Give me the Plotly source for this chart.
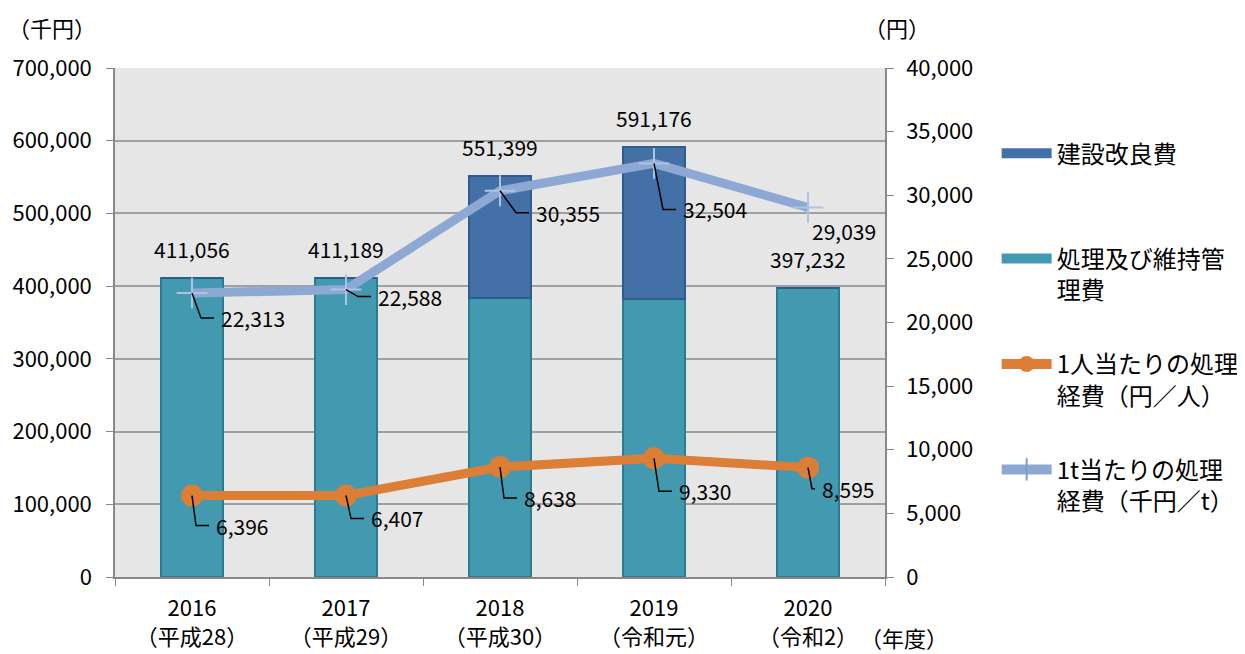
import plotly.graph_objects as go

# ---- data ----
years = ["2016<br>（平成28）", "2017<br>（平成29）", "2018<br>（平成30）", "2019<br>（令和元）", "2020<br>（令和2）"]
maintenance = [411056, 411189, 384000, 382000, 397232]   # 処理及び維持管理費 (千円)
totals = [411056, 411189, 551399, 591176, 397232]        # 合計 (千円)
construction = [t - m for t, m in zip(totals, maintenance)]  # 建設改良費 (千円)
per_person = [6396, 6407, 8638, 9330, 8595]              # 1人当たりの処理経費 (円/人)
per_ton = [22313, 22588, 30355, 32504, 29039]            # 1t当たりの処理経費 (千円/t)

# label offsets (pixels) for line labels: (dx, dy)
person_off = [(22, -30), (23, -23), (22, -31), (23, -33), (12, -21)]
ton_off = [(27, -25), (30, -7), (34, -22), (27, -46), (2, -24)]

FONT = "Noto Sans CJK JP"
TEAL = "#4299B0"
TEAL_EDGE = "#2C7C91"
NAVY = "#4470A8"
NAVY_EDGE = "#2E5C8E"
ORANGE = "#DD7E36"
LBLUE = "#8DA8D2"

fig = go.Figure()

fig.add_trace(go.Bar(x=years, y=maintenance, name="処理及び維持管理費", marker=dict(color=TEAL, line=dict(color=TEAL_EDGE, width=1.5)),
                     width=0.4, showlegend=False, yaxis="y"))
fig.add_trace(go.Bar(x=years, y=construction, name="建設改良費", marker=dict(color=NAVY, line=dict(color=NAVY_EDGE, width=1.5)),
                     width=0.4, showlegend=False, yaxis="y"))
fig.add_trace(go.Scatter(x=years, y=per_person, mode="lines+markers", yaxis="y2",
                         line=dict(color=ORANGE, width=9), marker=dict(size=22, color=ORANGE),
                         showlegend=False))
fig.add_trace(go.Scatter(x=years, y=per_ton, mode="lines+markers", yaxis="y2",
                         line=dict(color=LBLUE, width=9),
                         marker=dict(symbol="cross-thin", size=22, line=dict(color="#AEC2E3", width=2)),
                         showlegend=False))

# legend proxies
fig.add_trace(go.Scatter(x=[None], y=[None], mode="lines", name="建設改良費<br> ", line=dict(color=NAVY, width=10),
                         legendgroup="a", legendrank=1))
fig.add_trace(go.Scatter(x=[None], y=[None], mode="lines", name="処理及び維持管<br>理費", line=dict(color=TEAL, width=10),
                         legendgroup="b", legendrank=2))
fig.add_trace(go.Scatter(x=[None], y=[None], mode="lines+markers", name="1人当たりの処理<br>経費（円／人）",
                         line=dict(color=ORANGE, width=10), marker=dict(size=16, color=ORANGE),
                         legendgroup="c", legendrank=3))
fig.add_trace(go.Scatter(x=[None], y=[None], mode="lines+markers", name="1t当たりの処理<br>経費（千円／t）",
                         line=dict(color=LBLUE, width=10), marker=dict(symbol="line-ns", size=16, line=dict(color="#7F9CCB", width=2)),
                         legendgroup="d", legendrank=4))

LABEL_FONT = dict(size=21, color="black", family=FONT)
annotations = []
shapes = []
# totals above bars
for x, t in zip(years, totals):
    annotations.append(dict(x=x, y=t, xref="x", yref="y", text=f"{t:,}", showarrow=False,
                            yanchor="bottom", yshift=12, font=LABEL_FONT))

def line_labels(vals, offs):
    for x, v, (dx, dy) in zip(years, vals, offs):
        annotations.append(dict(x=x, y=v, xref="x", yref="y2", text=f"{v:,}", showarrow=False,
                                xanchor="left", yanchor="middle", xshift=dx, yshift=dy, font=LABEL_FONT))
        if dx >= 8:
            ex = max(dx - 18, 4)
            hx = dx - 5
            shapes.append(dict(type="path", xref="x", yref="y2", xsizemode="pixel", ysizemode="pixel",
                               xanchor=x, yanchor=v, path=f"M0,0 L{ex},{dy} L{hx},{dy}",
                               line=dict(color="black", width=1.5)))

line_labels(per_person, person_off)
line_labels(per_ton, ton_off)

unit_font = dict(size=22, color="black", family=FONT)
annotations.append(dict(x=-0.0815, y=1.0806, xref="paper", yref="paper", text="（千円）", showarrow=False,
                        xanchor="center", yanchor="middle", font=unit_font))
annotations.append(dict(x=1.0156, y=1.0806, xref="paper", yref="paper", text="（円）", showarrow=False,
                        xanchor="center", yanchor="middle", font=unit_font))
annotations.append(dict(x=1.0247, y=-0.1179, xref="paper", yref="paper", text="（年度）", showarrow=False,
                        xanchor="center", yanchor="middle", font=unit_font))

AX = "#888888"
fig.update_layout(
    width=1237, height=646,
    margin=dict(l=107, r=360, t=60, b=77, autoexpand=False),
    barmode="stack",
    plot_bgcolor="#E6E6E6", paper_bgcolor="white",
    font=dict(family=FONT, size=20, color="black"),
    xaxis=dict(type="category", tickson="boundaries", ticks="outside", ticklen=7, tickcolor=AX,
               showline=True, linecolor=AX, linewidth=1.5, showgrid=False, automargin=False,
               ticklabelstandoff=11, tickfont=dict(size=22)),
    yaxis=dict(range=[0, 700000], dtick=100000, tickformat=",", showgrid=True, gridcolor="#A0A0A0", gridwidth=1.5,
               showline=True, linecolor=AX, linewidth=1.5, ticks="outside", ticklen=7, tickcolor=AX,
               zeroline=False, automargin=False, ticklabelstandoff=10, tickfont=dict(size=22)),
    yaxis2=dict(range=[0, 40000], dtick=5000, tickformat=",", overlaying="y", side="right", showgrid=False,
                showline=True, linecolor=AX, linewidth=1.5, ticks="outside", ticklen=7, tickcolor=AX,
                zeroline=False, automargin=False, ticklabelstandoff=8, tickfont=dict(size=22)),
    legend=dict(x=1.145, y=0.876, xanchor="left", yanchor="top", traceorder="grouped", tracegroupgap=40,
                valign="top", itemwidth=50, font=dict(size=24), bgcolor="rgba(0,0,0,0)"),
    annotations=annotations, shapes=shapes,
)

fig.write_html("out.html")
